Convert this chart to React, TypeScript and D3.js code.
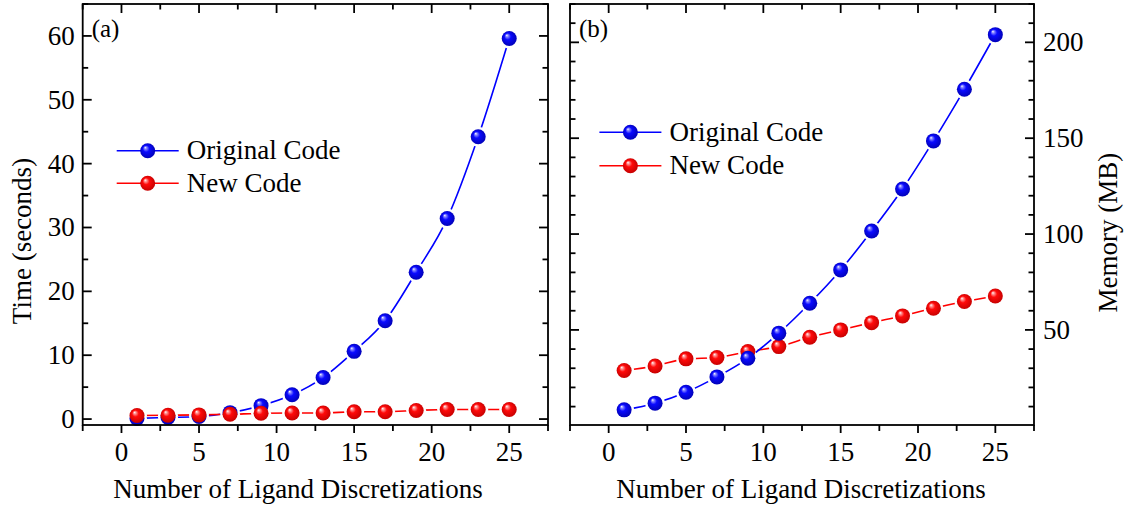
import React from "react";
import * as d3 from "d3";

// ---- data ----
const ligandCounts = [1, 3, 5, 7, 9, 11, 13, 15, 17, 19, 21, 23, 25];
const timeOriginal = [0.1, 0.25, 0.4, 1.0, 2.1, 3.8, 6.5, 10.6, 15.4, 23.0, 31.4, 44.2, 59.6];
const timeNew = [0.55, 0.6, 0.65, 0.75, 0.9, 0.95, 0.95, 1.15, 1.15, 1.35, 1.5, 1.5, 1.5];
const memOriginal = [8.3, 11.8, 17.5, 25.5, 35.2, 48.3, 63.9, 81.3, 101.6, 123.5, 148.6, 175.5, 204.0];
const memNew = [28.8, 31.2, 34.9, 35.6, 38.7, 41.3, 46.2, 50.0, 53.8, 57.3, 61.3, 64.8, 67.7];
const xTickValues = [0, 5, 10, 15, 20, 25];
const timeTickValues = [0, 10, 20, 30, 40, 50, 60];
const memTickValues = [50, 100, 150, 200];
const seriesNames = ["Original Code", "New Code"];
const panelLabels = ["(a)", "(b)"];
const xTitle = "Number of Ligand Discretizations";
const timeTitle = "Time (seconds)";
const memTitle = "Memory (MB)";

const FONT = '"Liberation Serif"';
const BLUE = "#0000ff";
const RED = "#ff0000";
const R = 7.5;
const FS = 27;

type PanelProps = {
  id: string;
  x0: number;
  x1: number;
  y0: number;
  y1: number;
  yDomain: [number, number];
  yMajor: number[];
  yMinor: number[];
  labelSide: "left" | "right";
  series: { values: number[]; color: string; grad: string }[];
  legendX: number;
  legendY: number;
  legendDy: number;
  label: string;
  xTitleX: number;
  yTitle: string;
  yTitleX: number;
  yTitleY: number;
};

function T(props: { x?: number; y?: number; anchor?: string; size?: number; transform?: string; children: React.ReactNode }) {
  const size = props.size || FS;
  return (
    <text
      x={props.x}
      y={props.y}
      transform={props.transform}
      textAnchor={props.anchor || "start"}
      fontFamily="Liberation Serif"
      fontSize={size}
      style={{ fontFamily: FONT, fontSize: size }}
    >
      {props.children}
    </text>
  );
}

function Panel(p: PanelProps) {
  const x = d3.scaleLinear().domain([-2.5, 27.5]).range([p.x0, p.x1]);
  const y = d3.scaleLinear().domain(p.yDomain).range([p.y1, p.y0]);
  const xMinor = d3.range(-2.5, 27.6, 2.5).filter((v) => !xTickValues.includes(v));
  const line = d3
    .line<number>()
    .x((_, i) => x(ligandCounts[i]))
    .y((d) => y(d))
    .curve(d3.curveMonotoneX);
  const sw = 1.8;
  const major = 9;
  const minor = 5.5;
  return (
    <g>
      <defs>
        {p.series.map((s, si) => (
          <mask id={`${p.id}-m${si}`} key={si} maskUnits="userSpaceOnUse" x={0} y={0} width={1125} height={507}>
            <rect x={0} y={0} width={1125} height={507} fill="white" />
            {s.values.map((v, i) => (
              <circle key={i} cx={x(ligandCounts[i])} cy={y(v)} r={R + 2.5} fill="black" />
            ))}
          </mask>
        ))}
      </defs>
      {p.series.map((s, si) => (
        <g key={si}>
          <path d={line(s.values) || ""} fill="none" stroke={s.color} strokeWidth={1.6} mask={`url(#${p.id}-m${si})`} />
          {s.values.map((v, i) => (
            <circle key={i} cx={x(ligandCounts[i])} cy={y(v)} r={R} fill={`url(#${s.grad})`} />
          ))}
        </g>
      ))}
      <rect x={p.x0} y={p.y0} width={p.x1 - p.x0} height={p.y1 - p.y0} fill="none" stroke="#000" strokeWidth={sw} />
      {xTickValues.map((v) => (
        <g key={`xt${v}`}>
          <line x1={x(v)} x2={x(v)} y1={p.y1} y2={p.y1 + 8} stroke="#000" strokeWidth={sw} />
          <line x1={x(v)} x2={x(v)} y1={p.y0} y2={p.y0 + major} stroke="#000" strokeWidth={sw} />
          <T x={x(v)} y={461} anchor="middle">
            {v}
          </T>
        </g>
      ))}
      {xMinor.map((v) => (
        <g key={`xm${v}`}>
          <line x1={x(v)} x2={x(v)} y1={p.y1} y2={p.y1 + 6} stroke="#000" strokeWidth={sw} />
          <line x1={x(v)} x2={x(v)} y1={p.y0} y2={p.y0 + minor} stroke="#000" strokeWidth={sw} />
        </g>
      ))}
      {p.yMajor.map((v) => (
        <g key={`yt${v}`}>
          <line x1={p.x0} x2={p.x0 + major} y1={y(v)} y2={y(v)} stroke="#000" strokeWidth={sw} />
          <line x1={p.x1} x2={p.x1 - major} y1={y(v)} y2={y(v)} stroke="#000" strokeWidth={sw} />
          {p.labelSide === "left" ? (
            <T x={p.x0 - 8} y={y(v) + 9} anchor="end">
              {v}
            </T>
          ) : (
            <T x={p.x1 + 9} y={y(v) + 9}>
              {v}
            </T>
          )}
        </g>
      ))}
      {p.yMinor.map((v) => (
        <g key={`ym${v}`}>
          <line x1={p.x0} x2={p.x0 + minor} y1={y(v)} y2={y(v)} stroke="#000" strokeWidth={sw} />
          <line x1={p.x1} x2={p.x1 - minor} y1={y(v)} y2={y(v)} stroke="#000" strokeWidth={sw} />
        </g>
      ))}
      <T x={p.x0 + 9} y={37} size={25}>
        {p.label}
      </T>
      {seriesNames.map((name, i) => {
        const ly = p.legendY + i * p.legendDy;
        const s = p.series.find((q) => q.color === (i === 0 ? BLUE : RED))!;
        return (
          <g key={name}>
            <line x1={p.legendX} x2={p.legendX + 62} y1={ly} y2={ly} stroke={s.color} strokeWidth={1.6} />
            <circle cx={p.legendX + 31} cy={ly} r={R} fill={`url(#${s.grad})`} />
            <T x={p.legendX + 70} y={ly + 8.5}>
              {name}
            </T>
          </g>
        );
      })}
      <T x={p.xTitleX} y={498} anchor="middle">
        {xTitle}
      </T>
      <T transform={`translate(${p.yTitleX},${p.yTitleY}) rotate(-90)`} anchor="middle">
        {p.yTitle}
      </T>
    </g>
  );
}

function Sphere({ id, light, base, dark }: { id: string; light: string; base: string; dark: string }) {
  return (
    <radialGradient id={id} cx="50%" cy="50%" r="55%" fx="33%" fy="28%">
      <stop offset="0%" stopColor="#ffffff" />
      <stop offset="14%" stopColor={light} />
      <stop offset="40%" stopColor={base} />
      <stop offset="100%" stopColor={dark} />
    </radialGradient>
  );
}

export default function App() {
  return (
    <svg
      width={1125}
      height={507}
      fontFamily="Liberation Serif"
      style={{ position: "absolute", left: 0, top: 0, display: "block", background: "#fff", fontFamily: FONT }}
    >
      <defs>
        <Sphere id="gBlue" light="#8c8cff" base="#0a0aff" dark="#0000b0" />
        <Sphere id="gRed" light="#ff9a9a" base="#ff0a0a" dark="#c00000" />
      </defs>
      <rect x={0} y={0} width={1125} height={507} fill="#fff" />
      <Panel
        id="pa"
        x0={82.7}
        x1={548}
        y0={4}
        y1={425}
        yDomain={[-0.93, 65]}
        yMajor={timeTickValues}
        yMinor={d3.range(5, 66, 10)}
        labelSide="left"
        series={[
          { values: timeOriginal, color: BLUE, grad: "gBlue" },
          { values: timeNew, color: RED, grad: "gRed" },
        ]}
        legendX={116.7}
        legendY={150.7}
        legendDy={32.6}
        label={panelLabels[0]}
        xTitleX={298}
        yTitle={timeTitle}
        yTitleX={30.5}
        yTitleY={241}
      />
      <Panel
        id="pb"
        x0={570}
        x1={1034}
        y0={4}
        y1={425}
        yDomain={[0.4, 220]}
        yMajor={memTickValues}
        yMinor={d3.range(10, 221, 10).filter((v) => !memTickValues.includes(v))}
        labelSide="right"
        series={[
          { values: memNew, color: RED, grad: "gRed" },
          { values: memOriginal, color: BLUE, grad: "gBlue" },
        ]}
        legendX={599.4}
        legendY={132.3}
        legendDy={33.4}
        label={panelLabels[1]}
        xTitleX={801}
        yTitle={memTitle}
        yTitleX={1117}
        yTitleY={232.7}
      />
    </svg>
  );
}
